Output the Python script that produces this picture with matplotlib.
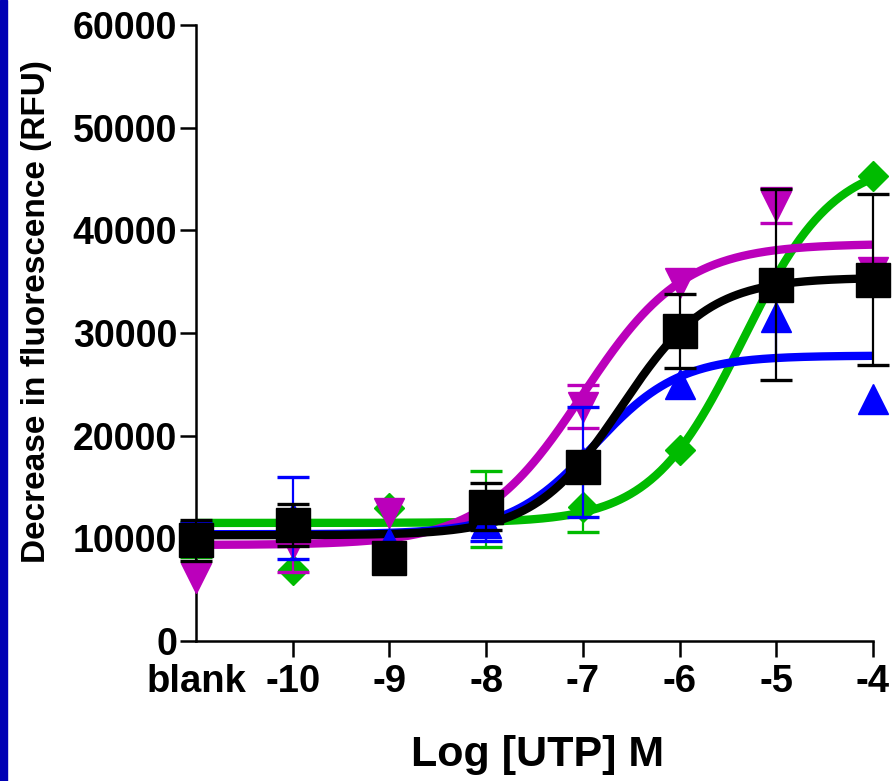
import numpy as np
import matplotlib
matplotlib.use("Agg")
import matplotlib.pyplot as plt
from matplotlib.patches import Rectangle

plt.rcParams['font.family'] = ['Liberation Sans', 'DejaVu Sans']
plt.rcParams['font.weight'] = 'bold'

# x positions: blank is drawn at -11
log_conc = [-11, -10, -9, -8, -7, -6, -5, -4]
tick_labels = ['blank', '-10', '-9', '-8', '-7', '-6', '-5', '-4']

green_mean = [9900, 6900, 13000, 12900, 13100, 18600, 34700, 45300]
green_err = [1700, 0, 0, 3700, 2500, 0, 0, 0]
magenta_mean = [6100, 9400, 12500, 12800, 22800, 34900, 42400, 35900]
magenta_err = [0, 2700, 0, 1000, 2100, 0, 1700, 0]
blue_mean = [10000, 12000, 9550, 11500, 17450, 25000, 31600, 23600]
blue_err = [1500, 4000, 0, 1800, 5350, 0, 4050, 0]
black_mean = [9800, 11300, 8100, 13100, 16950, 30200, 34700, 35200]
black_err = [2000, 2050, 0, 2300, 0, 3600, 9300, 8300]

# fitted curve params: bottom, top, logEC50, hill slope
green_fit = [11500, 47000, -5.35, 0.92]
magenta_fit = [9350, 38700, -7.0, 0.83]
blue_fit = [10400, 27800, -6.88, 0.99]
black_fit = [10300, 35400, -6.6, 0.96]


def four_pl(x, p):
    bottom, top, ec50, hill = p
    return bottom + (top - bottom) / (1 + 10 ** ((ec50 - x) * hill))


series = [
    (green_mean, green_err, green_fit, '#00BB00', 'D', 15.3),
    (magenta_mean, magenta_err, magenta_fit, '#BB00BB', 'v', 21.5),
    (blue_mean, blue_err, blue_fit, '#0000FF', '^', 21.5),
    (black_mean, black_err, black_fit, '#000000', 's', 24.5),
]

fig = plt.figure(figsize=(8.94, 7.81), dpi=100)
fig.patches.append(Rectangle((0, 0), 7 / 894, 1, transform=fig.transFigure,
                             color='#0000B4', zorder=0))
ax = fig.add_axes([196 / 894, 140 / 781, 677 / 894, 616 / 781])

xs = np.linspace(-11, -4, 400)
for mean, err, fit, col, mk, ms in series:
    ax.plot(xs, four_pl(xs, fit), color=col, lw=6, zorder=2, clip_on=False,
            solid_capstyle='butt')
for i, (mean, err, fit, col, mk, ms) in enumerate(series):
    x = np.array(log_conc)
    m = np.array(mean)
    e = np.array(err)
    keep = e > 0
    ax.errorbar(x[keep], m[keep], yerr=e[keep], fmt='none', ecolor=col,
                elinewidth=1.6, capsize=11.5, capthick=2.4,
                zorder=3 + i * 0.1, clip_on=False)
    ax.plot(x, m, mk, color=col, ms=ms, mec=col, zorder=3.05 + i * 0.1,
            clip_on=False)

ax.set_xlim(-11, -4)
ax.set_ylim(0, 60000)
ax.set_yticks(np.arange(0, 60001, 10000))
ax.set_xticks(log_conc)
ax.set_xticklabels(tick_labels)
ax.spines['top'].set_visible(False)
ax.spines['right'].set_visible(False)
for s in ['left', 'bottom']:
    ax.spines[s].set_linewidth(1.8)
ax.tick_params(axis='both', width=1.8, length=11.5)
ax.tick_params(axis='x', pad=5, labelsize=27.5)
ax.tick_params(axis='y', pad=2, labelsize=27)
ax.xaxis.get_major_ticks()[0].tick1line.set_visible(False)
for lab in ax.get_xticklabels() + ax.get_yticklabels():
    lab.set_fontweight('bold')

fig.text(37 / 894, 1 - 312 / 781, 'Decrease in fluorescence (RFU)',
         rotation=90, ha='center', va='center', fontsize=24, fontweight='bold')
fig.text(538 / 894, 1 - 755 / 781, 'Log [UTP] M', ha='center', va='center',
         fontsize=31, fontweight='bold')

fig.savefig('out.png', dpi=100)
